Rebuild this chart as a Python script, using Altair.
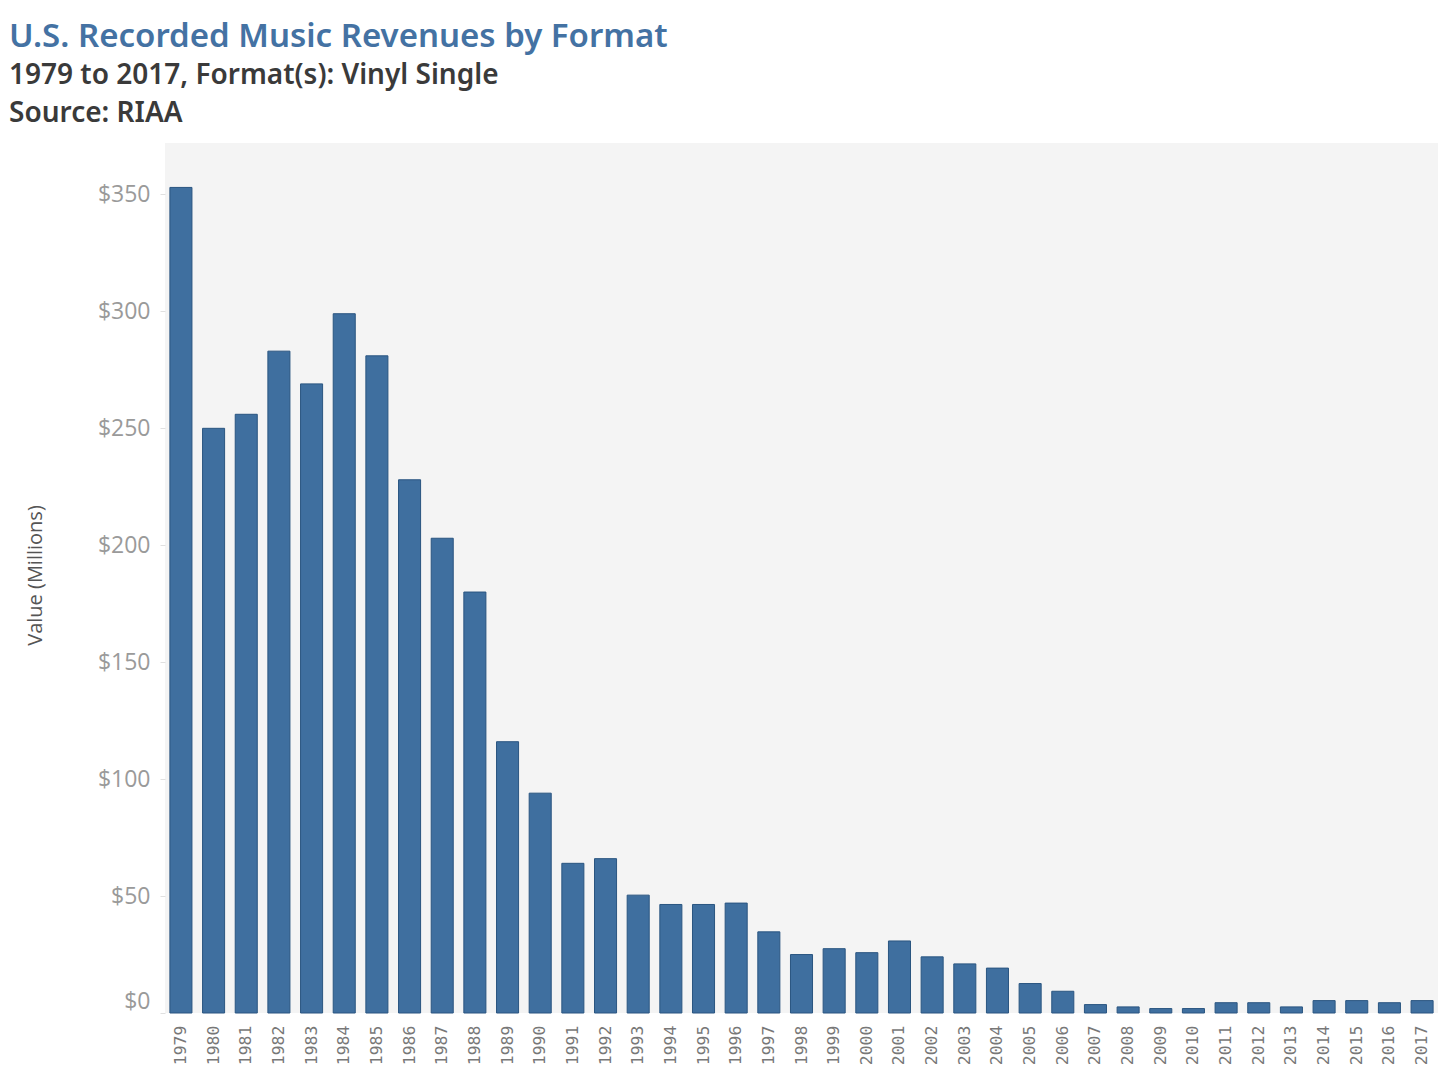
import altair as alt
import pandas as pd

years = [str(y) for y in range(1979, 2018)]
values = [353, 250, 256, 283, 269, 299, 281, 228, 203, 180,
          116, 94, 64, 66, 50.4, 46.4, 46.4, 47, 34.7, 25,
          27.5, 25.8, 30.8, 24, 21, 19.2, 12.6, 9.3, 3.6, 2.6,
          1.9, 1.9, 4.4, 4.4, 2.6, 5.3, 5.3, 4.4, 5.3]

df = pd.DataFrame({"Year": years, "Value": values})

chart = alt.Chart(df).mark_bar(
    color="#3f6f9f", stroke="#2a5580", strokeWidth=1
).encode(
    x=alt.X("Year:N", sort=years,
            scale=alt.Scale(paddingInner=0.325, paddingOuter=0.15),
            axis=alt.Axis(title=None, labelAngle=-90, labelFontSize=16.5,
                          labelColor="#777777", labelFont="DejaVu Sans Mono",
                          labelPadding=12, ticks=False, domain=False)),
    y=alt.Y("Value:Q", scale=alt.Scale(domain=[0, 372], nice=False),
            axis=alt.Axis(title="Value (Millions)", values=[0, 50, 100, 150, 200, 250, 300, 350],
                          format="$d", labelFontSize=23, labelColor="#9a9a9a",
                          labelFont="Open Sans", labelFlush=True,
                          tickSize=5, tickColor="#e0e0e0", labelPadding=10,
                          domain=False, grid=False,
                          titleFont="Open Sans", titleFontSize=20, titleFontWeight="normal",
                          titleColor="#555555", titleX=-130, titleY=432,
                          titleAlign="center", titleBaseline="middle")),
).properties(
    width=1273, height=870,
    padding={"left": 157, "top": 135, "right": 9, "bottom": 60},
    autosize=alt.AutoSizeParams(type="none"),
    title=alt.TitleParams(
        text="U.S. Recorded Music Revenues by Format",
        subtitle=["1979 to 2017, Format(s): Vinyl Single", "Source: RIAA"],
        anchor="start", frame="group", dx=-156, offset=15,
        font="Noto Sans", fontSize=33, fontWeight=600, color="#4472a3",
        subtitleFont="Noto Sans", subtitleFontSize=28, subtitleFontWeight=600,
        subtitleColor="#3a3a3a", subtitleLineHeight=38, subtitlePadding=8,
    ),
).configure_view(fill="#f4f4f4", stroke=None)

chart.save("out.html", embed_options={"renderer": "svg", "actions": False})
